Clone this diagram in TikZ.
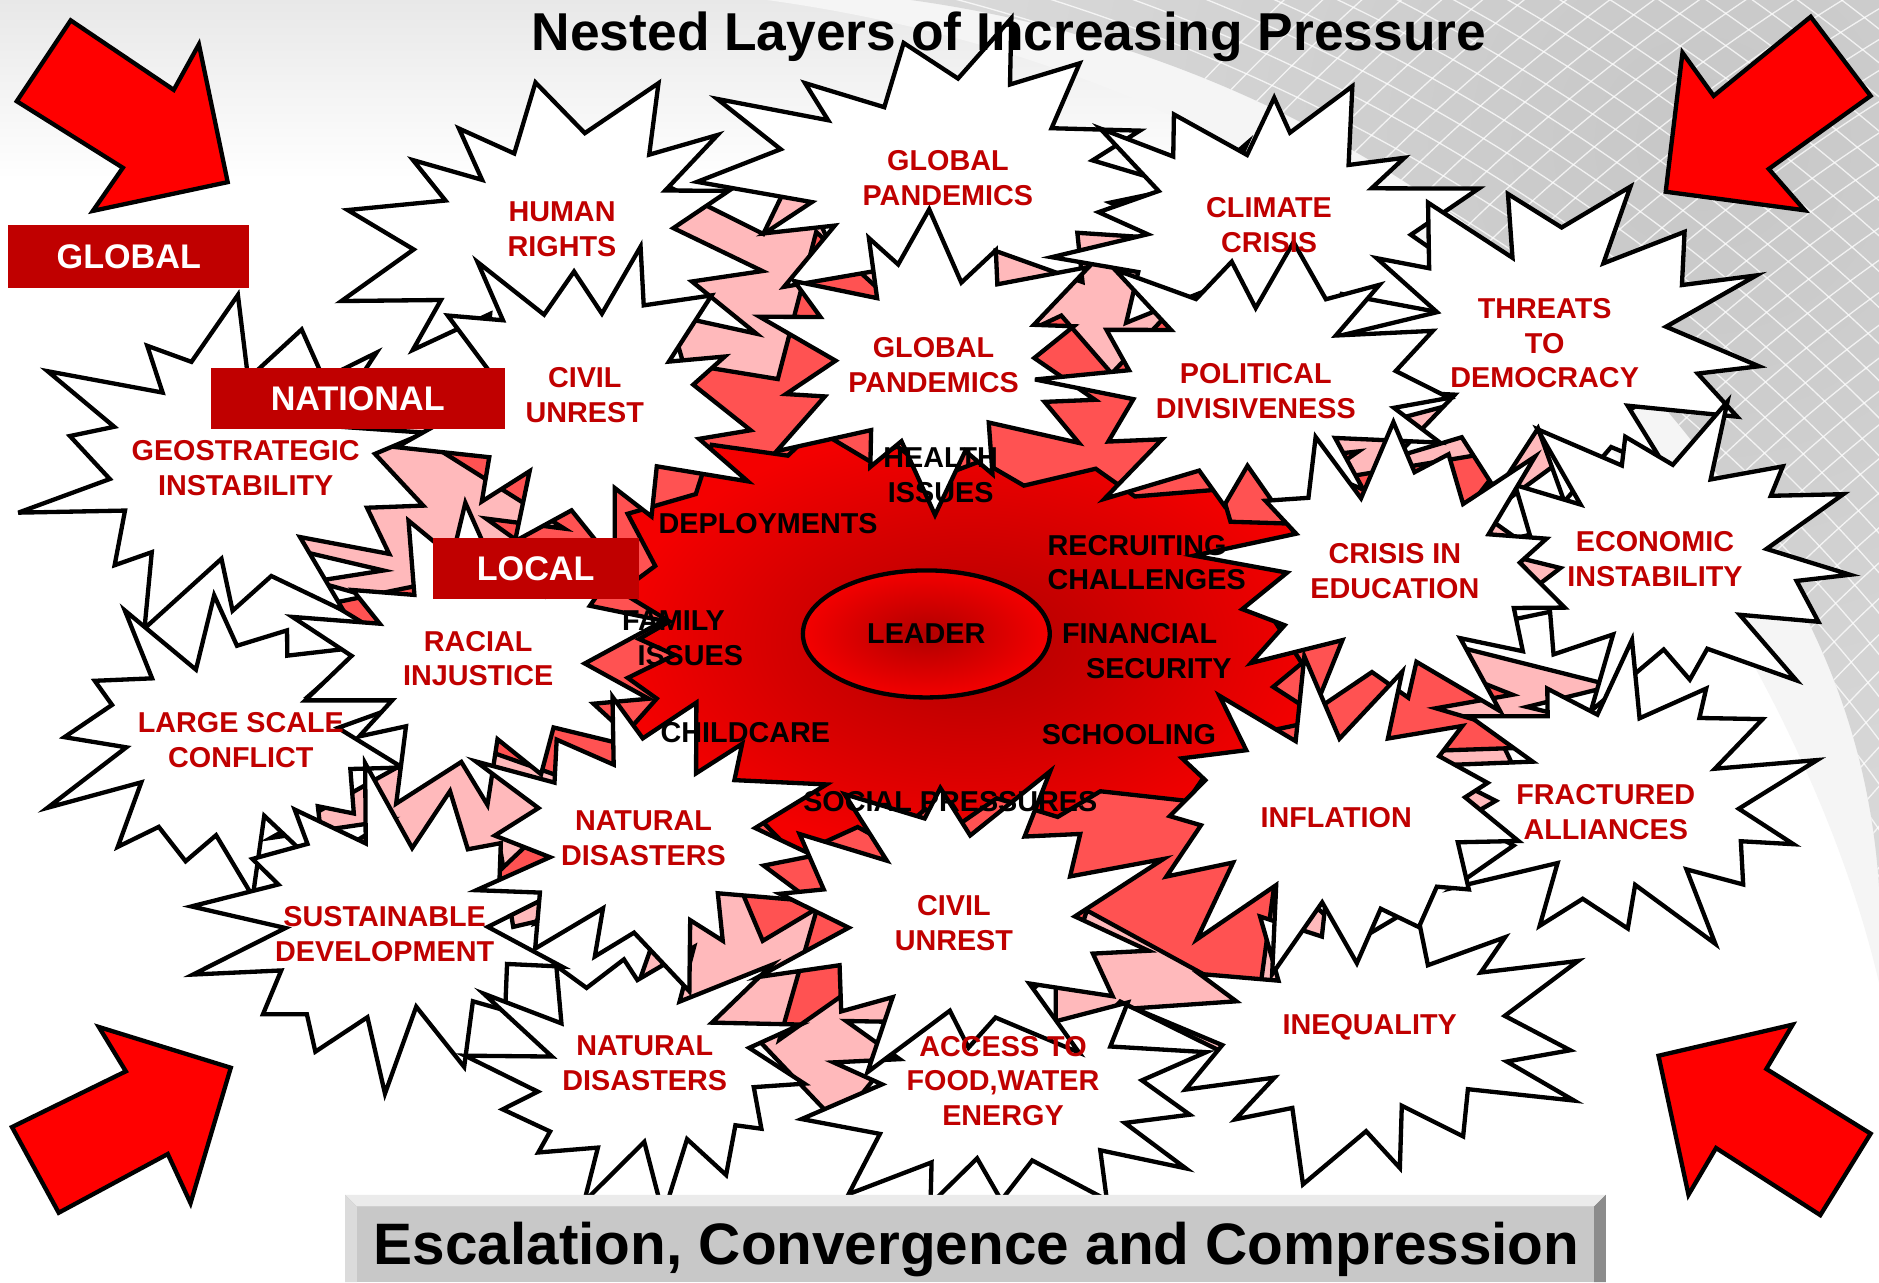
\documentclass[tikz,border=0pt]{standalone}
\usepackage{fontspec}
\setmainfont{Liberation Sans}
\usetikzlibrary{shapes.geometric}
\definecolor{starred}{HTML}{C00000}
\definecolor{boxred}{HTML}{C00000}
\definecolor{arrowred}{HTML}{FF0000}
\definecolor{pinklayer}{HTML}{FFB9BB}
\definecolor{midlayer}{HTML}{FF5252}
\definecolor{darkcore}{HTML}{B00000}
\definecolor{brightcore}{HTML}{F40000}
\definecolor{bannergray}{HTML}{C8C8C8}
% #1 style, #2 cx, #3 cy, #4 rx, #5 ry, #6 spikes, #7 inner ratio, #8 rotation, #9 seed
\newcommand{\jag}[9]{%
  \pgfmathtruncatemacro\jagM{2*#6-1}%
  \path[#1] plot[variable=\jk, samples at={0,...,\jagM}]
    ({#2+(1-(1-#7)*mod(\jk,2))*(1+0.14*sin(\jk*#9))*#4*cos(\jk*180/#6+#8+4*cos(\jk*#9*1.3))},
     {#3+(1-(1-#7)*mod(\jk,2))*(1+0.14*sin(\jk*#9))*#5*sin(\jk*180/#6+#8+4*cos(\jk*#9*1.3))}) -- cycle;}
\begin{document}
\begin{tikzpicture}[x=1pt,y=-1pt,
  starfill/.style={fill=white, draw=black, line width=3.6pt, line join=miter, miter limit=6},
  layerpink/.style={fill=pinklayer, draw=black, line width=3.6pt, line join=miter, miter limit=6},
  layermid/.style={fill=midlayer, draw=black, line width=3.6pt, line join=miter, miter limit=6},
  layercore/.style={draw=black, line width=3.6pt, inner color=darkcore, outer color=brightcore, line join=miter, miter limit=6},
  startext/.style={text=starred, font=\fontsize{24}{29}\selectfont\bfseries, align=center, inner sep=0pt},
  coretext/.style={text=black, font=\fontsize{24}{29}\selectfont\bfseries, align=center, inner sep=0pt},
  levelbox/.style={fill=boxred, text=white, font=\fontsize{28.5}{30}\selectfont\bfseries, inner sep=0pt},
  bigarrow/.style={fill=arrowred, draw=black, line width=3.6pt, line join=miter}]
\useasboundingbox (0,0) rectangle (1568,1070);
\clip (0,0) rectangle (1568,1070);
% background
\fill[white] (0,0) rectangle (1568,1070);
\shade[top color=black!9, bottom color=white] (0,0) rectangle (1568,150);
\fill[black!4] (640,0) .. controls (1000,50) and (1250,230) .. (1400,450)
        .. controls (1480,570) and (1540,700) .. (1568,820) -- (1568,0) -- cycle;
\begin{scope}
  \clip (760,0) .. controls (1050,40) and (1300,200) .. (1450,420)
        .. controls (1520,520) and (1560,620) .. (1568,740) -- (1568,0) -- cycle;
  \shade[inner color=black!22, outer color=black!5] (1420,120) circle (1500);
  \foreach \r in {1050,1072,...,1950} {\draw[white, line width=1.1pt, opacity=0.75] (2400,1400) circle (\r);}
  \foreach \r in {1200,1222,...,1980} {\draw[white, line width=1.1pt, opacity=0.75] (400,1500) circle (\r);}
\end{scope}
% nested layers
\jag{layerpink}{785}{525}{565}{388}{30}{0.8}{3}{47}
\jag{layermid}{790}{530}{478}{318}{26}{0.78}{5}{61}
\jag{layercore}{790}{535}{298}{176}{22}{0.88}{2}{29}
\node[draw=black, line width=3.6pt, ellipse, minimum width=206pt, minimum height=106pt,
      inner color=darkcore, outer color=brightcore, inner sep=0pt] (leader) at (773,529) {};
% outer ring of bursts
\jag{starfill}{468}{200}{172}{126}{14}{0.64}{8}{37}
\jag{starfill}{790}{148}{198}{120}{14}{0.64}{0}{53}
\jag{starfill}{1058}{192}{166}{116}{14}{0.64}{12}{71}
\jag{starfill}{1292}{285}{178}{132}{14}{0.64}{5}{89}
\jag{starfill}{195}{390}{163}{132}{14}{0.64}{10}{97}
\jag{starfill}{1388}{465}{157}{120}{14}{0.64}{3}{103}
\jag{starfill}{1352}{668}{152}{118}{14}{0.64}{14}{113}
\jag{starfill}{192}{620}{146}{118}{14}{0.64}{6}{127}
\jag{starfill}{322}{775}{152}{122}{14}{0.64}{11}{131}
\jag{starfill}{535}{893}{137}{108}{14}{0.64}{2}{139}
\jag{starfill}{835}{905}{162}{112}{14}{0.64}{9}{43}
\jag{starfill}{1140}{860}{172}{118}{14}{0.64}{4}{59}
% inner ring of bursts
\jag{starfill}{487}{335}{142}{126}{14}{0.64}{7}{67}
\jag{starfill}{778}{300}{142}{115}{14}{0.64}{13}{79}
\jag{starfill}{1048}{322}{162}{115}{14}{0.64}{1}{83}
\jag{starfill}{1163}{478}{147}{120}{14}{0.64}{10}{109}
\jag{starfill}{1112}{683}{157}{120}{14}{0.64}{5}{149}
\jag{starfill}{400}{550}{147}{120}{14}{0.64}{12}{61}
\jag{starfill}{538}{700}{142}{115}{14}{0.64}{3}{73}
\jag{starfill}{800}{768}{162}{122}{14}{0.64}{8}{101}
% burst texts
\node[startext] (hrT) at (469,191.5) {HUMAN\\RIGHTS};
\node[startext] (gp1T) at (791,148.5) {GLOBAL\\PANDEMICS};
\node[startext] (ccT) at (1059,188) {CLIMATE\\CRISIS};
\node[startext] (tdT) at (1289,286.5) {THREATS\\TO\\DEMOCRACY};
\node[startext] (cu1T) at (488,329.5) {CIVIL\\UNREST};
\node[startext] (gp2T) at (779,304.5) {GLOBAL\\PANDEMICS};
\node[startext] (pdT) at (1048,326.5) {POLITICAL\\DIVISIVENESS};
\node[startext] (gsT) at (205,390.5) {GEOSTRATEGIC\\INSTABILITY};
\node[startext] (ceT) at (1164,476.5) {CRISIS IN\\EDUCATION};
\node[startext] (eiT) at (1381,466.5) {ECONOMIC\\INSTABILITY};
\node[startext] (riT) at (399,549.5) {RACIAL\\INJUSTICE};
\node[startext] (lsT) at (201,617.5) {LARGE SCALE\\CONFLICT};
\node[startext] (nd1T) at (537,699.5) {NATURAL\\DISASTERS};
\node[startext] (sdT) at (321,779.5) {SUSTAINABLE\\DEVELOPMENT};
\node[startext] (cu2T) at (796,770.5) {CIVIL\\UNREST};
\node[startext] (infT) at (1115,682) {INFLATION};
\node[startext] (faT) at (1340,677.5) {FRACTURED\\ALLIANCES};
\node[startext] (nd2T) at (538,887.5) {NATURAL\\DISASTERS};
\node[startext] (afT) at (837,902) {ACCESS TO\\FOOD,WATER\\ENERGY};
\node[startext] (ineT) at (1143,857) {INEQUALITY};
% core texts
\node[coretext] (depT) at (641,437) {DEPLOYMENTS};
\node[coretext] (heaT) at (785,396.5) {HEALTH\\ISSUES};
\node[coretext, align=left, anchor=west] (recT) at (874,469.5) {RECRUITING\\CHALLENGES};
\node[coretext] (famT) at (569,532.5) {FAMILY\hspace*{14pt}\\\hspace*{14pt}ISSUES};
\node[coretext] (leaT) at (leader.center) {LEADER};
\node[coretext] (finT) at (959,543.5) {FINANCIAL\hspace*{16pt}\\\hspace*{16pt}SECURITY};
\node[coretext] (chiT) at (622,611) {CHILDCARE};
\node[coretext] (schT) at (942,613) {SCHOOLING};
\node[coretext] (socT) at (793,669) {SOCIAL PRESSURES};
% level labels
\node[levelbox, minimum width=201pt, minimum height=52pt] (global) at (107.5,214) {GLOBAL};
\node[levelbox, minimum width=245pt, minimum height=51pt] (national) at (298.5,332.5) {NATIONAL};
\node[levelbox, minimum width=172pt, minimum height=51pt] (local) at (447,474.5) {LOCAL};
% corner arrows
\draw[bigarrow] (59,17) -- (145,75) -- (166,37) -- (190,152) -- (77.5,176) -- (102.5,140) -- (14,84.5) -- cycle;
\draw[bigarrow] (1511,14) -- (1561,80) -- (1476,141) -- (1506,175.5) -- (1390,160) -- (1404,44) -- (1430,80) -- cycle;
\draw[bigarrow] (82.5,857) -- (192.6,891) -- (159,1004) -- (140,963) -- (49,1012) -- (10,940.5) -- (105,894) -- cycle;
\draw[bigarrow] (1496,855) -- (1474,892) -- (1561,946) -- (1519,1014) -- (1432,958) -- (1409,997) -- (1384,881) -- cycle;
% title
\node[font=\fontsize{44.5}{50}\selectfont\bfseries, anchor=base, inner sep=0pt] (title) at (842,42) {Nested Layers of Increasing Pressure};
% banner
\fill[black!38] (288,997) rectangle (1340,1070);
\fill[black!8] (288,997) -- (1340,997) -- (1330,1007) -- (298,1007) -- cycle;
\fill[black!14] (288,997) -- (298,1007) -- (298,1070) -- (288,1070) -- cycle;
\fill[black!45] (1340,997) -- (1340,1070) -- (1330,1070) -- (1330,1007) -- cycle;
\fill[bannergray] (298,1007) rectangle (1330,1070);
\node[font=\fontsize{48.8}{52}\selectfont\bfseries, anchor=base, inner sep=0pt] (banner) at (815,1055) {Escalation, Convergence and Compression};
\end{tikzpicture}
\end{document}
